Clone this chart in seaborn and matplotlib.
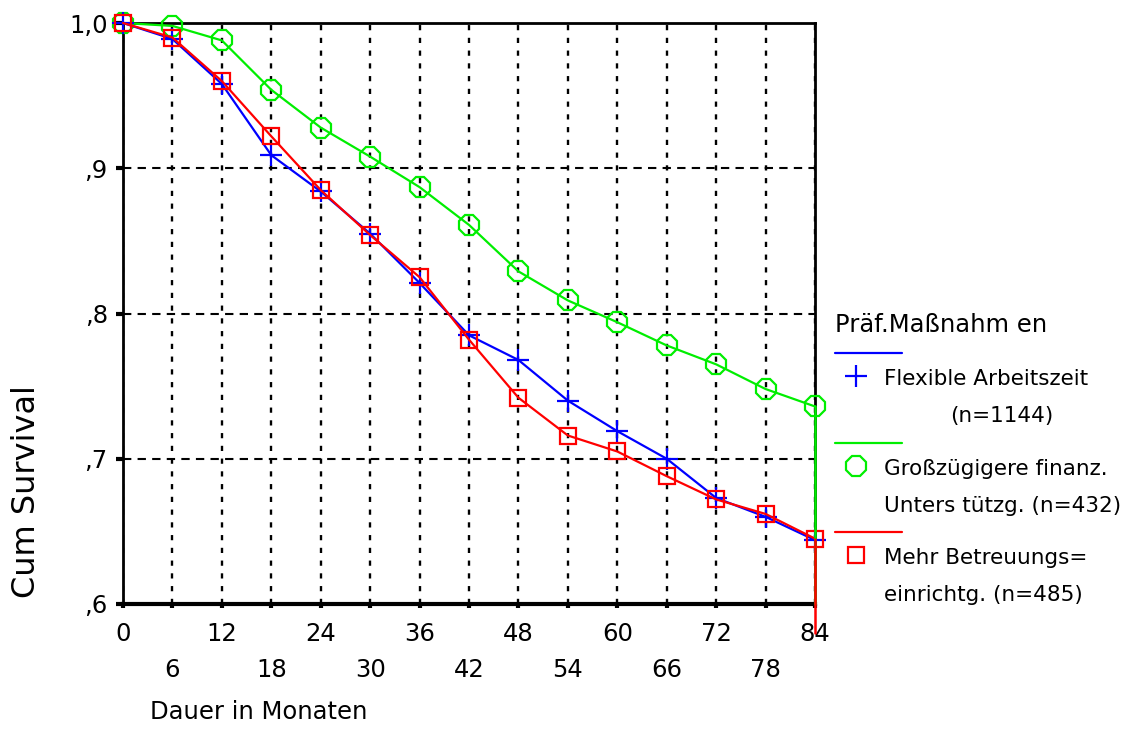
import matplotlib
matplotlib.use("Agg")
import matplotlib.pyplot as plt
from matplotlib.lines import Line2D
import seaborn as sns
import numpy as np

# ---- data ----
months = [0, 6, 12, 18, 24, 30, 36, 42, 48, 54, 60, 66, 72, 78, 84]
flexible = [1.000, 0.989, 0.958, 0.909, 0.884, 0.855, 0.821, 0.785, 0.768, 0.740, 0.719, 0.700, 0.673, 0.660, 0.644]
finanz = [1.000, 0.998, 0.988, 0.954, 0.928, 0.908, 0.887, 0.861, 0.829, 0.809, 0.794, 0.778, 0.765, 0.748, 0.736]
betreuung = [1.000, 0.990, 0.960, 0.922, 0.885, 0.854, 0.825, 0.782, 0.742, 0.716, 0.705, 0.688, 0.672, 0.662, 0.645]
drop_end = {"finanz": 0.600, "betreuung": 0.580}

major_ticks = [0, 12, 24, 36, 48, 60, 72, 84]
minor_ticks = [6, 18, 30, 42, 54, 66, 78]
y_ticks = [0.6, 0.7, 0.8, 0.9, 1.0]
y_labels = [",6", ",7", ",8", ",9", "1,0"]

legend_title = "Präf.Maßnahm en"
legend_rows = [
    ("Flexible Arbeitszeit", "(n=1144)"),
    ("Großzügigere finanz.", "Unters tützg. (n=432)"),
    ("Mehr Betreuungs=", "einrichtg. (n=485)"),
]

BLUE = "#0000ff"
GREEN = "#00ee00"
RED = "#ff0000"

sns.set_theme(style="white")
plt.rcParams["font.family"] = ["DejaVu Sans"]

W, H = 1127, 744
fig = plt.figure(figsize=(W / 100, H / 100), dpi=100)
ax = fig.add_axes([123 / W, 1 - 604 / H, (815 - 123) / W, (604 - 23) / H])
ax.set_facecolor("white")

ax.set_xlim(0, 84)
ax.set_ylim(0.6, 1.0)

ax.set_xticks(major_ticks)
ax.set_xticks(minor_ticks, minor=True)
ax.set_xticklabels([str(t) for t in major_ticks])
ax.set_xticklabels([str(t) for t in minor_ticks], minor=True)
ax.set_yticks(y_ticks)
ax.set_yticklabels(y_labels)

ax.xaxis.grid(True, which="both", color="black", linewidth=1.7, linestyle=(0, (2.2, 3.2)))
ax.yaxis.grid(True, which="major", color="black", linewidth=1.5, linestyle=(0, (4.0, 3.0)))
ax.set_axisbelow(True)

TS = 17.5
ax.tick_params(axis="x", which="major", direction="out", length=3, width=3, color="black",
               pad=10, labelsize=TS, labelcolor="black", bottom=True)
ax.tick_params(axis="x", which="minor", direction="out", length=3, width=3, color="black",
               pad=36, labelsize=TS, labelcolor="black", bottom=True)
ax.tick_params(axis="y", which="major", direction="out", length=5, width=3, color="black",
               pad=6, labelsize=TS, labelcolor="black", left=True)

for side in ["left", "top", "right"]:
    ax.spines[side].set_visible(True)
    ax.spines[side].set_color("black")
    ax.spines[side].set_linewidth(2)
ax.spines["bottom"].set_color("black")
ax.spines["bottom"].set_linewidth(3)

# series
series = [
    (finanz, GREEN, "8", 15, "finanz"),
    (flexible, BLUE, "+", 16, "flexible"),
    (betreuung, RED, "s", 12, "betreuung"),
]
for vals, col, mk, ms, key in series:
    sns.lineplot(x=months, y=vals, color=col, marker=mk, markersize=ms,
                 markerfacecolor="none", markeredgecolor=col, markeredgewidth=1.6,
                 linewidth=1.6, ax=ax, clip_on=False, zorder=3)
    if key in drop_end:
        ax.plot([months[-1], months[-1]], [vals[-1], drop_end[key]], color=col,
                linewidth=1.8, clip_on=False, zorder=4)

ax.set_xlabel("")
ax.set_ylabel("")

fig.text(150 / W, 1 - 712 / H, "Dauer in Monaten", fontsize=17.5, ha="left", va="center", color="black")
fig.text(27 / W, 1 - 492 / H, "Cum Survival", fontsize=23, rotation=90, ha="center", va="center", color="black")

def fx(x):
    return x / W

def fy(y):
    return 1 - y / H

LS = 15.5
fig.text(fx(835), fy(325), legend_title, fontsize=17.5, ha="left", va="center", color="black")
leg_colors = [BLUE, GREEN, RED]
leg_markers = [("+", 16), ("8", 15), ("s", 12)]
line_y = [353, 443, 532]
for i, ((l1, l2), col, (mk, ms)) in enumerate(zip(legend_rows, leg_colors, leg_markers)):
    ly = line_y[i]
    fig.add_artist(Line2D([fx(835), fx(902)], [fy(ly), fy(ly)], color=col, linewidth=1.6,
                          transform=fig.transFigure))
    fig.add_artist(Line2D([fx(856)], [fy(ly + 23)], marker=mk, markersize=ms, markerfacecolor="none",
                          markeredgecolor=col, markeredgewidth=1.6, linestyle="none",
                          transform=fig.transFigure))
    fig.text(fx(884), fy(ly + 26), l1, fontsize=LS, ha="left", va="center", color="black")
    if i == 0:
        fig.text(fx(950), fy(ly + 63), l2, fontsize=LS, ha="left", va="center", color="black")
    else:
        fig.text(fx(884), fy(ly + 63), l2, fontsize=LS, ha="left", va="center", color="black")

fig.savefig("out.png", dpi=100, facecolor="white")
